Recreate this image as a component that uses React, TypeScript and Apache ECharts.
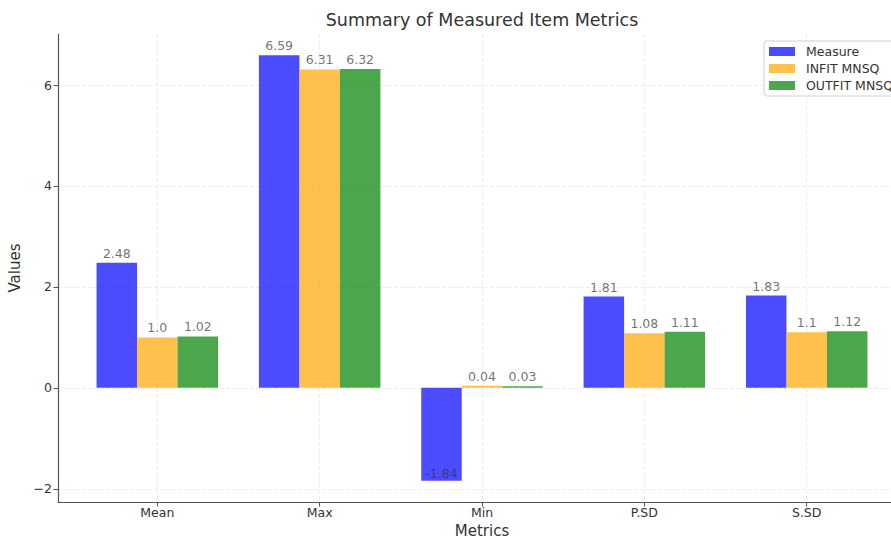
import React, { useEffect, useRef } from "react";
import * as echarts from "echarts";

const categories = ["Mean", "Max", "Min", "P.SD", "S.SD"];
const measure = [2.48, 6.59, -1.84, 1.81, 1.83];
const infit = [1.0, 6.31, 0.04, 1.08, 1.1];
const outfit = [1.02, 6.32, 0.03, 1.11, 1.12];
const yTicks = [-2, 0, 2, 4, 6];
const seriesNames = ["Measure", "INFIT MNSQ", "OUTFIT MNSQ"];
const seriesColors = ["#0000ff", "#ffa500", "#008000"];

const Y_MIN = -2.2615;
const Y_MAX = 7.0115;
const FONT = "DejaVu Sans";
const TEXT = "#333333";
const SPINE = "#555555";
const GRID = "#e8e8e8";

const fmt = (v: number) => (Number.isInteger(v) ? v.toFixed(1) : String(v));

export default function App() {
  const ref = useRef<HTMLDivElement>(null);
  useEffect(() => {
    if (!ref.current) return;
    const chart = echarts.init(ref.current, null, { renderer: "svg" });
    const values = [measure, infit, outfit];
    const barSeries = values.map((arr, i) => ({
      type: "bar",
      name: seriesNames[i],
      xAxisIndex: 1,
      yAxisIndex: 1,
      barWidth: 40.5,
      barGap: "0%",
      itemStyle: { color: seriesColors[i], opacity: 0.7 },
      data: arr.map((v) => ({
        value: v,
        label: v < 0 ? { position: "insideBottom", distance: 1 } : { position: "top", distance: 3 },
      })),
      label: {
        show: true,
        fontFamily: FONT,
        fontSize: 12.5,
        color: TEXT,
        formatter: (p: any) => fmt(p.value),
      },
    }));
    chart.setOption({
      animation: false,
      textStyle: { fontFamily: FONT },
      title: {
        text: "Summary of Measured Item Metrics",
        left: 482,
        textAlign: "center",
        top: 11,
        padding: 0,
        textStyle: { fontFamily: FONT, fontSize: 17.5, fontWeight: "normal", color: TEXT },
      },
      legend: {
        orient: "vertical",
        left: 764,
        top: 41,
        padding: [4, 6, 4, 5],
        itemGap: 4,
        itemWidth: 26,
        itemHeight: 9,
        icon: "rect",
        borderColor: "#d0d0d0",
        borderWidth: 1,
        borderRadius: 3,
        backgroundColor: "rgba(255,255,255,0.85)",
        textStyle: { fontFamily: FONT, fontSize: 12.5, color: TEXT, padding: [0, 0, 0, 6] },
        data: seriesNames,
      },
      grid: [
        { left: 58, right: -15, top: 34, bottom: 36, outerBoundsMode: "none", containLabel: false },
        { left: 157.3, right: 84.3, top: 34, bottom: 36, outerBoundsMode: "none", containLabel: false },
      ],
      xAxis: [
        {
          type: "value",
          gridIndex: 0,
          min: 0,
          max: 1,
          axisLine: { show: true, onZero: false, lineStyle: { color: SPINE, width: 1.2 } },
          axisTick: { show: false },
          axisLabel: { show: false },
          splitLine: { show: false },
        },
        {
          type: "category",
          gridIndex: 1,
          data: categories,
          boundaryGap: false,
          name: "Metrics",
          nameLocation: "middle",
          nameGap: 19,
          nameTextStyle: { fontFamily: FONT, fontSize: 15, color: TEXT },
          axisLine: { show: false, onZero: false },
          axisTick: { show: true, length: 4.5, lineStyle: { color: SPINE } },
          axisLabel: { fontFamily: FONT, fontSize: 12.5, color: TEXT, margin: 4, interval: 0 },
          splitLine: { show: true, lineStyle: { color: GRID, type: [4, 2], width: 0.8 } },
        },
      ],
      yAxis: [
        {
          type: "value",
          gridIndex: 0,
          min: Y_MIN,
          max: Y_MAX,
          name: "Values",
          nameLocation: "middle",
          nameGap: 32,
          nameTextStyle: { fontFamily: FONT, fontSize: 15, color: TEXT },
          axisLine: { show: true, onZero: false, lineStyle: { color: SPINE, width: 1.2 } },
          axisTick: { show: true, length: 4.5, customValues: yTicks, lineStyle: { color: SPINE } },
          axisLabel: {
            customValues: yTicks,
            fontFamily: FONT,
            fontSize: 12.5,
            color: TEXT,
            margin: 6,
            formatter: (v: number) => (v < 0 ? "\u2212" + Math.abs(v) : String(v)),
          },
          splitLine: { show: true, lineStyle: { color: GRID, type: [4, 2], width: 0.8 } },
        },
        {
          type: "value",
          gridIndex: 1,
          min: Y_MIN,
          max: Y_MAX,
          show: false,
          splitLine: { show: false },
        },
      ],
      series: barSeries,
    });
    return () => chart.dispose();
  }, []);
  return (
    <div
      ref={ref}
      style={{ position: "fixed", left: 0, top: 0, width: 891, height: 538, background: "#fff" }}
    />
  );
}
